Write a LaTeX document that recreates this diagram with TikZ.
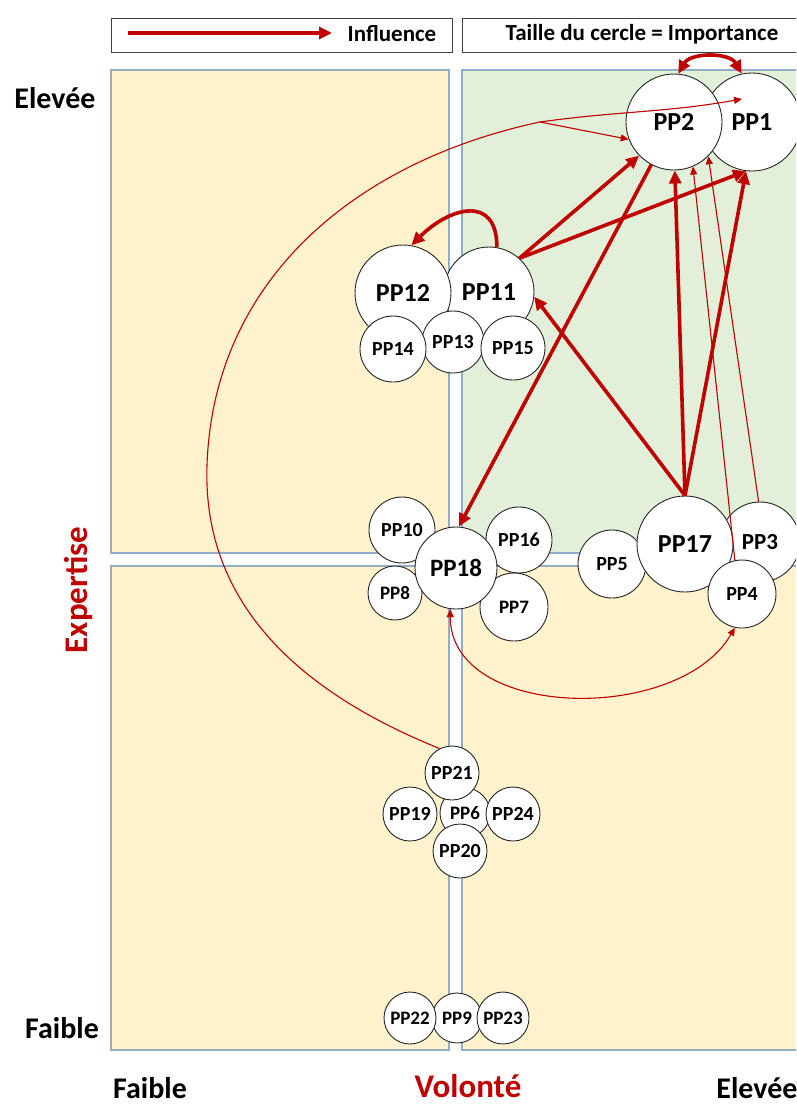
\documentclass[tikz,border=0pt]{standalone}
\usepackage{fontspec}
\setmainfont{Carlito}
\usetikzlibrary{arrows.meta}
\definecolor{rd}{HTML}{C00000}
\definecolor{qor}{HTML}{FFF2CC}
\definecolor{qgr}{HTML}{E2EFD9}
\definecolor{qbd}{HTML}{94ADC6}
\begin{document}
\begin{tikzpicture}[x=1pt,y=1pt,
  quad/.style={draw=qbd, line width=1.4pt},
  legbox/.style={draw=black!75, line width=1pt, fill=white},
  pp/.style={circle, draw=black!85, fill=white, line width=0.9pt, inner sep=0pt},
  fs/.style={font=\fontsize{#1}{#1}\selectfont\bfseries},
  axlab/.style={font=\fontsize{30}{30}\selectfont\bfseries, text=black, inner sep=0pt},
  axred/.style={font=\fontsize{33}{33}\selectfont\bfseries, text=rd, inner sep=0pt},
  inf/.style={draw=rd, line width=3.6pt, -{Triangle[length=13pt,width=12pt]}},
  infboth/.style={draw=rd, line width=3.6pt, {Triangle[length=13pt,width=12pt]}-{Triangle[length=13pt,width=12pt]}},
  infthin/.style={draw=rd, line width=1.1pt, -{Triangle[length=8pt,width=7pt]}},
  infthinboth/.style={draw=rd, line width=1.1pt, {Triangle[length=8pt,width=7pt]}-{Triangle[length=8pt,width=7pt]}},
]
\clip (0,0) rectangle (796,-1106);
\fill[white] (0,0) rectangle (796,-1106);

% quadrants
\filldraw[quad, fill=qor] (111,-70) rectangle (449,-553);
\filldraw[quad, fill=qgr] (462,-70) rectangle (806,-553);
\filldraw[quad, fill=qor] (111,-566) rectangle (449,-1050);
\filldraw[quad, fill=qor] (462,-566) rectangle (806,-1050);

% legend
\draw[legbox] (111,-18) rectangle (452,-52);
\draw[legbox] (462,-18) rectangle (806,-52);
\coordinate (la) at (128,-33);
\coordinate (lb) at (332,-33);
\draw[inf] (la) -- (lb);
\node[fs=23] (linf) at (392,-34) {Influence};
\node[fs=23] (ltaille) at (642,-34) {Taille du cercle = Importance};

% axis labels
\node[axlab] (yhi) at (55,-98) {Elevée};
\node[axlab] (ylo) at (62,-1028) {Faible};
\node[axlab] (xlo) at (150,-1088) {Faible};
\node[axlab] (xhi) at (757,-1088) {Elevée};
\node[axred] (xlab) at (468,-1086) {Volonté};
\node[axred, rotate=90] (ylab) at (78,-590) {Expertise};

% top pair
\node[pp, minimum size=98pt, fs=26] (PP1) at (752,-122) {PP1};
\node[pp, minimum size=96pt, fs=26] (PP2) at (674,-122) {PP2};

% PP11/PP12 cluster
\node[pp, minimum size=90pt, fs=26] (PP11) at (489,-292) {PP11};
\node[pp, minimum size=96pt, fs=26] (PP12) at (403,-293) {PP12};
\node[pp, minimum size=62pt, fs=20] (PP13) at (453,-342) {PP13};
\node[pp, minimum size=66pt, fs=20] (PP14) at (393,-349) {PP14};
\node[pp, minimum size=64pt, fs=20] (PP15) at (513,-348) {PP15};

% PP18 cluster
\node[pp, minimum size=66pt, fs=20] (PP10) at (402,-530) {PP10};
\node[pp, minimum size=54pt, fs=19] (PP8) at (395,-593) {PP8};
\node[pp, minimum size=66pt, fs=20] (PP16) at (519,-540) {PP16};
\node[pp, minimum size=68pt, fs=19] (PP7) at (514,-607) {PP7};
\node[pp, minimum size=82pt, fs=25] (PP18) at (456,-568) {PP18};

% PP17 cluster
\node[pp, minimum size=68pt, fs=20] (PP5) at (612,-564) {PP5};
\node[pp, minimum size=80pt, fs=23] (PP3) at (760,-542) {PP3};
\node[pp, minimum size=96pt, fs=26] (PP17) at (685,-544) {PP17};
\node[pp, minimum size=68pt, fs=20] (PP4) at (742,-594) {PP4};

% PP6 cluster
\node[pp, minimum size=50pt, fs=19] (PP6) at (465,-813) {PP6};
\node[pp, minimum size=54pt, fs=20] (PP21) at (452,-773) {PP21};
\node[pp, minimum size=54pt, fs=20] (PP19) at (410,-814) {PP19};
\node[pp, minimum size=54pt, fs=20] (PP24) at (513,-814) {PP24};
\node[pp, minimum size=54pt, fs=20] (PP20) at (460,-851) {PP20};

% bottom cluster
\node[pp, minimum size=50pt, fs=19] (PP9) at (457,-1018) {PP9};
\node[pp, minimum size=52pt, fs=19] (PP22) at (410,-1018) {PP22};
\node[pp, minimum size=52pt, fs=19] (PP23) at (503,-1018) {PP23};

% thick influences
\draw[infboth] (PP2.85) to[out=60,in=120] (PP1.102);
\draw[inf] (PP11.80) to[out=90,in=45,looseness=1.6] (PP12.80);
\draw[inf] (PP11.48) -- (PP2.224);
\draw[inf] (PP11.48) -- (PP1.263);
\draw[inf] (PP2.242) -- (PP18.86);
\draw[inf] (PP17.north) -- (PP11.354);
\draw[inf] (PP17.north) -- (PP2.271);
\draw[inf] (PP17.north) -- (PP1.263);

% thin influences
\draw[infthin] (PP4.102) -- (PP2.293);
\draw[infthin] (PP3.92) -- (PP2.315);
\coordinate (cl) at (207,-465);
\coordinate (br) at (540,-122);
\coordinate (p1in) at (742,-99);
\draw[infthin] (PP21.117) to[out=158,in=-92] (cl) to[out=88,in=192] (br) to[out=8,in=190] (p1in);
\draw[infthin] (br) -- (PP2.201);
\draw[infthinboth] (PP18.262) to[out=-90,in=-120] (PP4.258);
\end{tikzpicture}
\end{document}
